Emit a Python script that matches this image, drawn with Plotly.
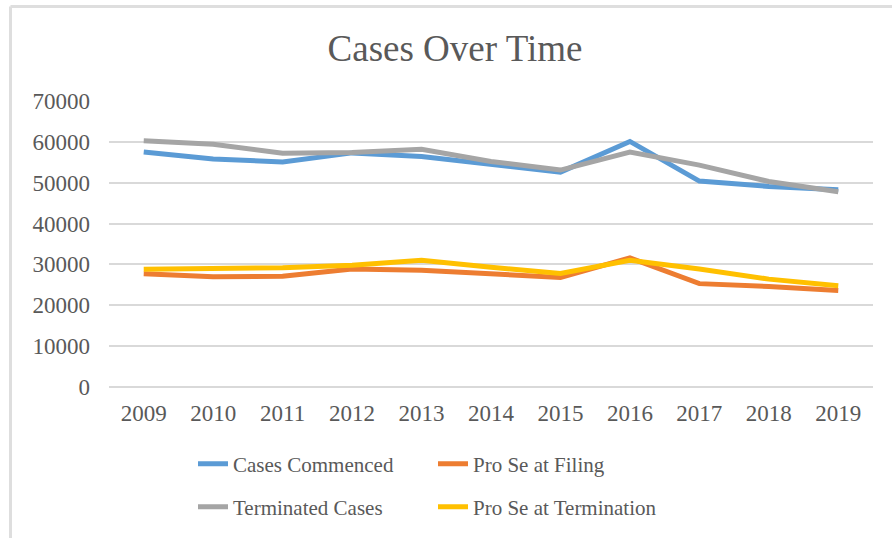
import plotly.graph_objects as go

years = ["2009", "2010", "2011", "2012", "2013", "2014", "2015", "2016", "2017", "2018", "2019"]
cases_commenced = [57500, 55800, 55100, 57300, 56400, 54600, 52600, 60100, 50400, 49100, 48300]
pro_se_filing = [27700, 27000, 27100, 28900, 28600, 27800, 26800, 31600, 25300, 24600, 23600]
terminated_cases = [60300, 59400, 57200, 57400, 58200, 55200, 53100, 57500, 54300, 50300, 47800]
pro_se_termination = [28800, 29000, 29200, 29800, 31000, 29300, 27800, 31000, 28900, 26400, 24800]

y_ticks = [0, 10000, 20000, 30000, 40000, 50000, 60000, 70000]

FONT = "Liberation Serif"
TXT = "#595959"

fig = go.Figure()
series = [
    ("Cases Commenced", cases_commenced, "#5B9BD5", "legend"),
    ("Pro Se at Filing", pro_se_filing, "#ED7D31", "legend"),
    ("Terminated Cases", terminated_cases, "#A5A5A5", "legend2"),
    ("Pro Se at Termination", pro_se_termination, "#FFC000", "legend2"),
]
for name, vals, col, lg in series:
    fig.add_trace(go.Scatter(x=years, y=vals, name=name, mode="lines",
                             line=dict(color=col, width=5), legend=lg))

legend_common = dict(orientation="h", xref="container", yref="container",
                     yanchor="middle", xanchor="left", entrywidth=195,
                     font=dict(family=FONT, size=21, color=TXT),
                     bgcolor="rgba(0,0,0,0)", tracegroupgap=0)

fig.update_layout(
    width=892, height=538,
    font=dict(family=FONT, color=TXT),
    margin=dict(l=109, r=19, t=101, b=151, autoexpand=False),
    paper_bgcolor="white", plot_bgcolor="white",
    title=dict(text="Cases Over Time", x=455 / 892, xanchor="center",
               xref="container", yref="container", y=(538 - 48) / 538,
               yanchor="middle", font=dict(family=FONT, size=37, color=TXT)),
    legend=dict(x=193 / 892, y=74 / 538, **legend_common),
    legend2=dict(x=193 / 892, y=31 / 538, **legend_common),
    xaxis=dict(type="category", range=[-0.5, 10.5], showgrid=False, showline=False,
               ticks="", ticklabelstandoff=10,
               tickfont=dict(family=FONT, size=23, color=TXT)),
    yaxis=dict(range=[0, 70000], tickvals=y_ticks, ticktext=[str(v) for v in y_ticks],
               showgrid=True, gridcolor="#d9d9d9", gridwidth=1.5,
               zeroline=True, zerolinecolor="#d9d9d9", zerolinewidth=1.5,
               showline=False, ticks="", ticklabelstandoff=18,
               tickfont=dict(family=FONT, size=23, color=TXT)),
    showlegend=True,
)

# chart frame (top and left edges visible)
fig.add_shape(type="line", xref="paper", yref="paper",
              x0=(10.5 - 109) / 764, x1=(895 - 109) / 764,
              y0=(387 - 6.5) / 286, y1=(387 - 6.5) / 286,
              line=dict(color="#dedede", width=3))
fig.add_shape(type="line", xref="paper", yref="paper",
              x0=(10.5 - 109) / 764, x1=(10.5 - 109) / 764,
              y0=(387 - 6.5) / 286, y1=(387 - 545) / 286,
              line=dict(color="#dedede", width=3))

fig.write_html("out.html", config={"displayModeBar": False},
               post_script="document.body.style.margin='0';")
